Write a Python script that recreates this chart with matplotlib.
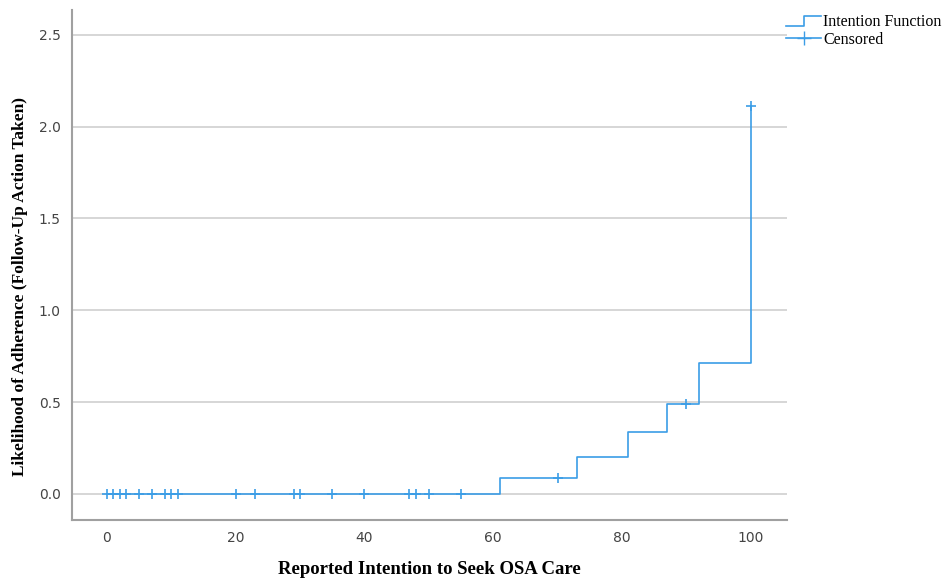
import numpy as np
import matplotlib
matplotlib.use('Agg')
import matplotlib.pyplot as plt
from matplotlib.lines import Line2D
from matplotlib.legend_handler import HandlerBase


# step function (cumulative hazard style)
step_x = [0, 61, 73, 81, 87, 92, 100]
step_y = [0.0, 0.085, 0.20, 0.335, 0.49, 0.715, 2.11]

# censored observations
cens_x = [0, 1, 2, 3, 5, 7, 9, 10, 11, 20, 23, 29, 30, 35, 40, 47, 48,
          50, 55, 70, 90, 100]

x_ticks = [0, 20, 40, 60, 80, 100]
y_ticks = [0.0, 0.5, 1.0, 1.5, 2.0, 2.5]

blue = '#3b9de6'


def step_value(x):
    idx = np.searchsorted(step_x, x, side='right') - 1
    return np.array(step_y)[idx]


class StepHandler(HandlerBase):
    # legend handle drawn as a small step, like SPSS does
    def create_artists(self, legend, orig_handle, xdescent, ydescent,
                       width, height, fontsize, trans):
        xs = [0, width * 0.5, width * 0.5, width]
        ys = [height * 0.05, height * 0.05, height * 0.95, height * 0.95]
        ln = Line2D(xs, ys, color=blue, lw=1.2, transform=trans)
        return [ln]


fig = plt.figure(figsize=(9.53, 5.81), dpi=100)
ax = fig.add_axes([0.0756, 0.105, 0.75, 0.878])

ax.plot(step_x, step_y, drawstyle='steps-post', color=blue, lw=1.2)
ax.plot(cens_x, step_value(cens_x), linestyle='none', marker='+',
        markersize=6.5, markeredgewidth=1.2, color=blue)

ax.set_xlim(-5.4, 105.6)
ax.set_ylim(-0.142, 2.636)
ax.set_xticks(x_ticks)
ax.set_yticks(y_ticks)
ax.set_yticklabels([f'{v:.1f}' for v in y_ticks])
ax.tick_params(length=0, labelsize=10, labelcolor='#444444', pad=8)

ax.yaxis.grid(True, color='#d0d0d0', lw=1.2)
ax.set_axisbelow(True)
for s in ['top', 'right']:
    ax.spines[s].set_visible(False)
for s in ['left', 'bottom']:
    ax.spines[s].set_color('#a0a0a0')
    ax.spines[s].set_linewidth(1.5)

ax.set_xlabel('Reported Intention to Seek OSA Care', family='Liberation Serif',
              fontweight='bold', fontsize=13.5)
ax.set_ylabel('Likelihood of Adherence (Follow-Up Action Taken)',
              family='Liberation Serif', fontweight='bold', fontsize=12.5)
ax.xaxis.set_label_coords(0.5, -0.08)
ax.yaxis.set_label_coords(-0.061, 0.457)

h1 = Line2D([], [], color=blue)
h2 = Line2D([], [], color=blue, marker='+', markersize=10, lw=1.2)
fig.legend([h1, h2], ['Intention Function', 'Censored'],
           handler_map={h1: StepHandler()},
           loc='upper left', bbox_to_anchor=(0.81, 1.0), frameon=False,
           prop={'family': 'Liberation Serif', 'size': 11.5},
           handlelength=2.2, handletextpad=0.1, labelspacing=0.1)

fig.savefig('out.png', dpi=100)
